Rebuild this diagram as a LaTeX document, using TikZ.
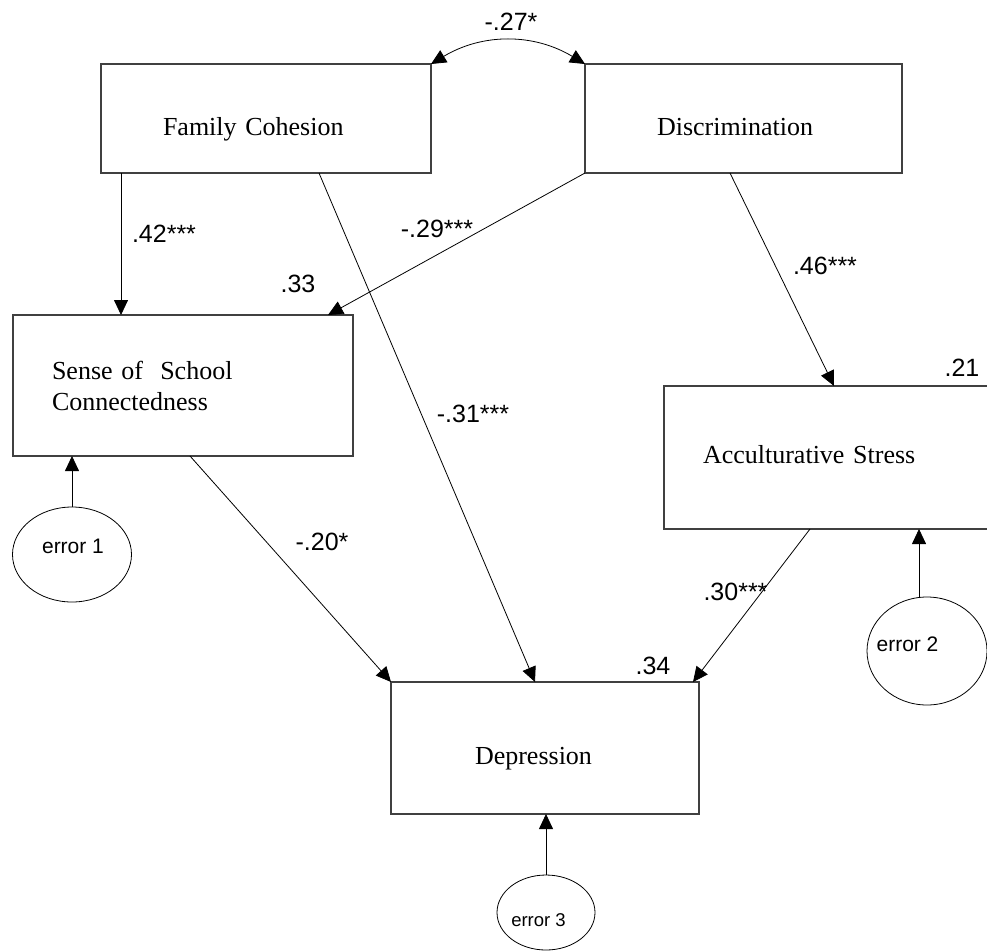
\documentclass[tikz,border=0pt]{standalone}
\usepackage{fontspec}
\setmainfont{Liberation Serif}
\newfontfamily\numfont{Liberation Sans}
\usetikzlibrary{arrows.meta,calc,shapes.geometric}
\begin{document}
\begin{tikzpicture}[x=1pt,y=1pt,
  box/.style={draw=black!75, line width=1.2pt, rectangle, inner ysep=0pt, outer sep=0pt,
    align=left, font=\fontsize{26}{31}\selectfont},
  err/.style={draw, ellipse, line width=0.8pt, inner sep=0pt, outer sep=0pt},
  lbl/.style={font=\numfont\fontsize{25}{30}\selectfont, inner sep=0pt},
  errtxt/.style={font=\numfont\fontsize{21}{25}\selectfont, inner sep=0pt},
  arr/.style={-{Triangle[length=15pt,width=14pt]}, line width=0.8pt},
  darr/.style={{Triangle[length=15pt,width=14pt]}-{Triangle[length=15pt,width=14pt]}, line width=0.8pt}
]
\useasboundingbox (0,0) rectangle (987,-951);
% boxes
\node[box, minimum height=109, text width=206, inner xsep=62, text height=33pt, text depth=0pt] (fc) at (266,-118.5) {Family Cohesion};
\node[box, minimum height=109, text width=173, inner xsep=72, text height=33pt, text depth=0pt] (dis) at (743.5,-118.5) {Discrimination};
\node[box, minimum height=141, text width=262, inner xsep=39] (ssc) at (183,-385.5) {Sense of\ \ School\\Connectedness};
\node[box, minimum height=143, text width=268, inner xsep=39, text height=11pt, text depth=0pt] (acc) at (837,-457.5) {Acculturative Stress};
\node[box, minimum height=132, text width=140, inner xsep=84, text height=32pt, text depth=0pt] (dep) at (545,-748) {Depression};
% error terms
\node[err, minimum width=119, minimum height=95] (e1) at (72,-554.5) {};
\node[err, minimum width=120, minimum height=108] (e2) at (927,-651) {};
\node[err, minimum width=98, minimum height=75] (e3) at (546,-912.5) {};
\node[errtxt] (e1t) at (73,-546) {error 1};
\node[errtxt] (e2t) at (907.5,-644.5) {error 2};
\node[errtxt, font=\numfont\fontsize{18.5}{22}\selectfont] (e3t) at (538.5,-920) {error 3};
% connectors
\draw[darr] (fc.north east) to[bend left=31] (dis.north west);
\draw[arr] ($(fc.south west)+(20,0)$) -- ($(ssc.north west)+(108,0)$);
\draw[arr] (dis.south west) -- ($(ssc.north east)+(-25,0)$);
\draw[arr] ($(fc.south west)+(218,0)$) -- ($(dep.north west)+(144,0)$);
\draw[arr] ($(dis.south west)+(145,0)$) -- ($(acc.north west)+(170,0)$);
\draw[arr] ($(ssc.south west)+(177,0)$) -- (dep.north west);
\draw[arr] ($(acc.south west)+(146,0)$) -- ($(dep.north east)+(-6,0)$);
\draw[arr] (e1.north) -- (e1.north |- ssc.south);
\coordinate (e2top) at ($(e2.north)+(-8,0)$);
\draw[arr] (e2top) -- (e2top |- acc.south);
\draw[arr] (e3.north) -- (e3.north |- dep.south);
% coefficient labels
\node[lbl] (l27) at (511,-22) {-.27*};
\node[lbl] (l42) at (164,-234) {.42***};
\node[lbl] (l33) at (298,-284) {.33};
\node[lbl] (l29) at (437,-229) {-.29***};
\node[lbl] (l46) at (825,-266) {.46***};
\node[lbl] (l21) at (962,-368) {.21};
\node[lbl] (l31) at (473,-414) {-.31***};
\node[lbl] (l20) at (322,-542) {-.20*};
\node[lbl] (l30) at (735.5,-592) {.30***};
\node[lbl] (l34) at (653,-666) {.34};
\end{tikzpicture}
\end{document}
